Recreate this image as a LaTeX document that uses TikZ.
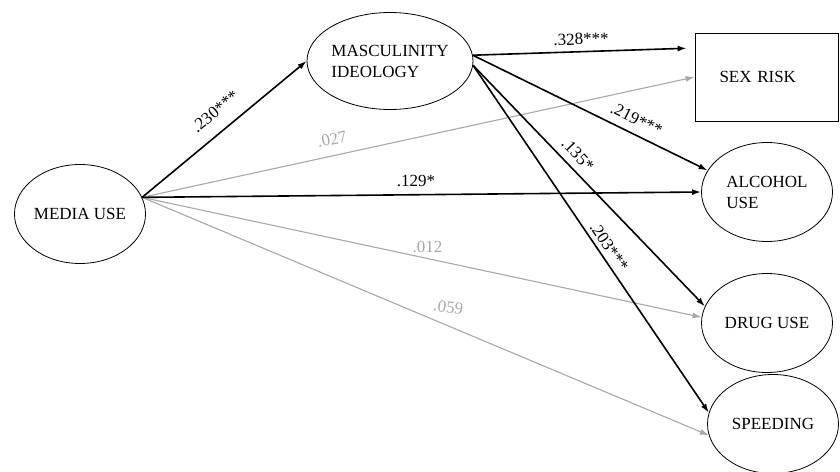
\documentclass[tikz,border=0pt]{standalone}
\usepackage{fontspec}
\setmainfont{Liberation Serif}
\usetikzlibrary{shapes.geometric,arrows.meta}
\definecolor{nsgray}{HTML}{A8A8A8}
\tikzset{
  var/.style={ellipse,draw=black,line width=0.8pt,minimum width=131pt,minimum height=99pt,
    inner sep=0pt,align=left,font=\fontsize{17}{21}\selectfont},
  coef/.style={font=\fontsize{17}{20}\selectfont,inner sep=2pt},
  sig/.style={draw=black,line width=1.6pt,-{Latex[length=9pt,width=6pt]}},
  ns/.style={draw=nsgray,line width=1.1pt,-{Latex[length=9pt,width=6pt]}},
}
\begin{document}
\begin{tikzpicture}[x=1pt,y=-1pt]
    \useasboundingbox (0,0) rectangle (840,471);
    \begin{scope}
    \node[var] (media) at (80,214) {MEDIA USE};
    \node[var,minimum width=166pt,minimum height=97pt] (masc) at (390,61) {MASCULINITY\\IDEOLOGY};
    \node[draw=black,line width=0.8pt,minimum width=143pt,minimum height=88pt,text width=94pt,
      align=left,font=\fontsize{17}{20}\selectfont] (sex) at (766.5,77) {SEX RISK};
    \node[var] (alcohol) at (767,192) {ALCOHOL\\USE};
    \node[var] (drug) at (767,323) {DRUG USE};
    \node[var] (speed) at (773,424) {SPEEDING};
    \end{scope}
    % non-significant paths
    \path (media.15) edge [ns] node[coef,text=nsgray,pos=0.35,sloped,above=8pt] {.027} (sex.west);
    \path (media.15) edge [ns] node[coef,text=nsgray,pos=0.51,yshift=12pt] {.012} (drug.175);
    \path (media.15) edge [ns] node[coef,text=nsgray,pos=0.536,rotate=-8,yshift=18pt] {.059} (speed.190);
    % significant paths
    \path (media.15) edge [sig] node[coef,pos=0.52,sloped,above=11pt] {.230***} (masc.west);
    \path (media.15) edge [sig] node[coef,pos=0.49,above=5pt] {.129*} (alcohol.west);
    \path (masc.4) edge [sig,shorten >=8pt] node[coef,pos=0.49,sloped,above=4pt] {.328***} ([yshift=29pt]sex.west);
    \path (masc.4) edge [sig] node[coef,pos=0.67,sloped,above=6pt] {.219***} (alcohol.160);
    \path (masc.-3) edge [sig] node[coef,pos=0.41,sloped,above=5pt] {.135*} (drug.165);
    \path (masc.-3) edge [sig] node[coef,pos=0.54,sloped,above=2pt] {.203***} (speed.170);
\end{tikzpicture}
\end{document}
